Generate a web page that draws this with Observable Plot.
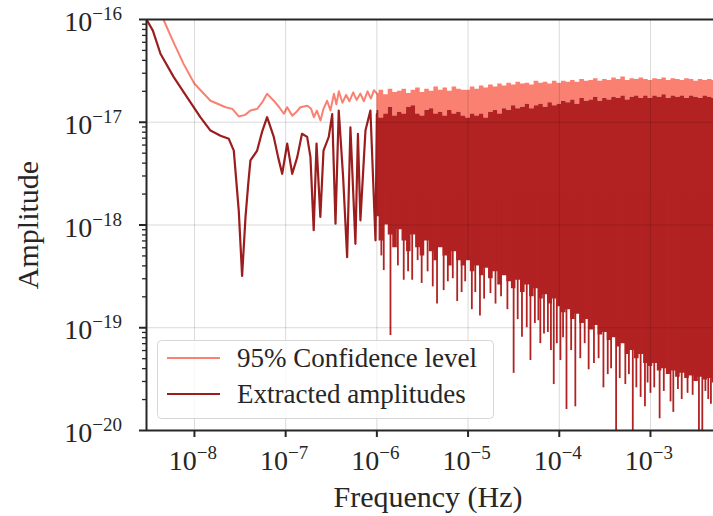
<!DOCTYPE html>
<html>
<head>
<meta charset="utf-8">
<script src="https://cdn.jsdelivr.net/npm/d3@7"></script>
<script src="https://cdn.jsdelivr.net/npm/@observablehq/plot@0.6"></script>
<style>
  body { margin: 0; background: #fff; }
  #wrap { position: relative; width: 713px; height: 516px; overflow: hidden; }
  #legend { position: absolute; left: 157px; top: 340px; }
</style>
</head>
<body>
<div id="wrap"><div id="chart"></div><div id="legend"></div></div>
<script>
// ---- data ----
const confFreq = [2.98e-9, 3.5e-9, 4.0e-9, 4.57e-9, 5.8e-9, 7.6e-9, 1.0e-8, 1.5e-8, 2.2e-8, 2.6e-8, 3.06e-8, 3.6e-8, 4.11e-8, 4.87e-8, 5.5e-8, 6.26e-8, 7.41e-8, 8.5e-8, 9.55e-8, 1.04e-7, 1.18e-7, 1.3e-7, 1.45e-7, 1.73e-7, 1.9e-7, 2.04e-7, 2.2e-7, 2.41e-7, 2.6e-7, 2.85e-7, 3.1e-7, 3.38e-7, 3.6e-7, 3.83e-7, 4.2e-7, 4.6e-7, 5.0e-7, 5.5e-7, 6.0e-7, 6.6e-7, 7.2e-7, 7.9e-7, 8.6e-7, 9.3e-7, 1.0e-6];
const confAmp  = [1.9e-16, 1.45e-16, 1.15e-16, 1.0e-16, 6.2e-17, 3.7e-17, 2.37e-17, 1.62e-17, 1.40e-17, 1.35e-17, 1.14e-17, 1.18e-17, 1.30e-17, 1.35e-17, 1.55e-17, 1.89e-17, 1.62e-17, 1.40e-17, 1.21e-17, 1.40e-17, 1.16e-17, 1.25e-17, 1.40e-17, 1.45e-17, 1.35e-17, 1.12e-17, 1.3e-17, 1.04e-17, 1.35e-17, 1.62e-17, 1.3e-17, 1.89e-17, 1.5e-17, 2.0e-17, 1.55e-17, 1.85e-17, 1.6e-17, 1.95e-17, 1.65e-17, 1.9e-17, 1.6e-17, 2.0e-17, 1.7e-17, 2.05e-17, 1.9e-17];

const extFreq = [2.98e-9, 3.5e-9, 4.24e-9, 5.93e-9, 8.32e-9, 1.16e-8, 1.5e-8, 1.93e-8, 2.38e-8, 2.7e-8, 3.06e-8, 3.33e-8, 3.63e-8, 3.9e-8, 4.11e-8, 4.87e-8, 5.5e-8, 6.26e-8, 7.41e-8, 8.3e-8, 9.16e-8, 1.04e-7, 1.18e-7, 1.34e-7, 1.51e-7, 1.72e-7, 1.87e-7, 2.03e-7, 2.18e-7, 2.4e-7, 2.6e-7, 2.97e-7, 3.24e-7, 3.52e-7, 3.82e-7, 4.27e-7, 4.72e-7, 5.13e-7, 5.82e-7, 6.2e-7, 6.6e-7, 7.5e-7, 8.5e-7, 9.66e-7, 1.0e-6];
const extAmp  = [1.0e-16, 7.8e-17, 4.64e-17, 2.75e-17, 1.75e-17, 1.12e-17, 8.3e-18, 7.4e-18, 6.9e-18, 5.3e-18, 1.38e-18, 3.2e-19, 1.2e-18, 2.6e-18, 4.25e-18, 5.3e-18, 8.0e-18, 1.12e-17, 7.2e-18, 4.5e-18, 3.15e-18, 6.2e-18, 3.15e-18, 4.58e-18, 7.73e-18, 7.2e-18, 4.58e-18, 8.9e-19, 6.2e-18, 1.2e-18, 5.3e-18, 7.2e-18, 1.2e-17, 1.03e-18, 1.3e-17, 2.9e-18, 4.86e-19, 8.9e-18, 6.56e-19, 7.7e-18, 1.11e-18, 8.3e-18, 1.3e-17, 7.1e-19, 1.2e-17];

// dense high-frequency part: envelopes of the extracted amplitudes and the confidence level
const denseFreq = [
  1.00e-6, 1.12e-6, 1.26e-6, 1.41e-6, 1.58e-6, 1.78e-6, 2.00e-6, 2.24e-6, 2.51e-6, 2.82e-6, 3.16e-6, 3.55e-6, 3.98e-6, 4.47e-6, 5.01e-6, 5.62e-6, 6.31e-6, 7.08e-6, 7.94e-6, 8.91e-6,
  1.00e-5, 1.12e-5, 1.26e-5, 1.41e-5, 1.58e-5, 1.78e-5, 2.00e-5, 2.24e-5, 2.51e-5, 2.82e-5, 3.16e-5, 3.55e-5, 3.98e-5, 4.47e-5, 5.01e-5, 5.62e-5, 6.31e-5, 7.08e-5, 7.94e-5, 8.91e-5,
  1.00e-4, 1.12e-4, 1.26e-4, 1.41e-4, 1.58e-4, 1.78e-4, 2.00e-4, 2.24e-4, 2.51e-4, 2.82e-4, 3.16e-4, 3.55e-4, 3.98e-4, 4.47e-4, 5.01e-4, 5.62e-4, 6.31e-4, 7.08e-4, 7.94e-4, 8.91e-4,
  1.00e-3, 1.12e-3, 1.26e-3, 1.41e-3, 1.58e-3, 1.78e-3, 2.00e-3, 2.24e-3, 2.51e-3, 2.82e-3, 3.16e-3, 3.55e-3, 3.98e-3, 4.47e-3, 5.01e-3];
const denseHi = [
  1.3e-17, 1.1e-17, 1.2e-17, 1.4e-17, 1.15e-17, 1.25e-17, 1.2e-17, 1.4e-17, 1.45e-17, 1.2e-17, 1.15e-17, 1.3e-17, 1.35e-17, 1.2e-17, 1.25e-17, 1.15e-17, 1.3e-17, 1.2e-17, 1.25e-17, 1.15e-17,
  1.1e-17, 1.2e-17, 1.15e-17, 1.2e-17, 1.1e-17, 1.25e-17, 1.3e-17, 1.2e-17, 1.35e-17, 1.3e-17, 1.45e-17, 1.35e-17, 1.4e-17, 1.5e-17, 1.35e-17, 1.45e-17, 1.5e-17, 1.4e-17, 1.55e-17, 1.45e-17,
  1.5e-17, 1.6e-17, 1.55e-17, 1.65e-17, 1.5e-17, 1.7e-17, 1.6e-17, 1.65e-17, 1.75e-17, 1.6e-17, 1.7e-17, 1.65e-17, 1.75e-17, 1.7e-17, 1.8e-17, 1.65e-17, 1.75e-17, 1.8e-17, 1.7e-17, 1.8e-17,
  1.7e-17, 1.8e-17, 1.75e-17, 1.85e-17, 1.7e-17, 1.8e-17, 1.75e-17, 1.8e-17, 1.7e-17, 1.8e-17, 1.75e-17, 1.7e-17, 1.8e-17, 1.75e-17, 1.7e-17];
const denseLo = [
  1.2e-18, 7e-19, 1.0e-18, 8e-19, 6e-19, 9e-19, 7e-19, 5.5e-19, 8e-19, 6e-19, 5e-19, 7e-19, 5.5e-19, 4.5e-19, 6e-19, 5e-19, 4e-19, 5.5e-19, 4.5e-19, 4e-19,
  4.5e-19, 3.5e-19, 4e-19, 3.2e-19, 3.8e-19, 3e-19, 3.5e-19, 2.6e-19, 3.2e-19, 2.8e-19, 2.4e-19, 2.9e-19, 2.2e-19, 2.6e-19, 2.0e-19, 2.4e-19, 1.9e-19, 2.1e-19, 1.7e-19, 1.9e-19,
  1.6e-19, 1.4e-19, 1.5e-19, 1.2e-19, 1.35e-19, 1.1e-19, 1.2e-19, 9.5e-20, 1.05e-19, 8.5e-20, 9e-20, 7.5e-20, 8e-20, 6.5e-20, 7e-20, 5.5e-20, 6e-20, 5e-20, 5.5e-20, 4.5e-20,
  4.2e-20, 4.5e-20, 3.8e-20, 4e-20, 3.5e-20, 3.8e-20, 3.3e-20, 3.6e-20, 3.2e-20, 3.4e-20, 3.0e-20, 3.3e-20, 3.1e-20, 3.2e-20, 2.9e-20];
const denseConf = [
  1.9e-17, 2.05e-17, 1.85e-17, 2.1e-17, 1.95e-17, 2.0e-17, 2.1e-17, 1.9e-17, 2.05e-17, 2.15e-17, 1.95e-17, 2.1e-17, 2.0e-17, 2.2e-17, 2.05e-17, 2.15e-17, 2.0e-17, 2.2e-17, 2.1e-17, 2.05e-17,
  2.05e-17, 2.2e-17, 2.1e-17, 2.25e-17, 2.15e-17, 2.3e-17, 2.2e-17, 2.35e-17, 2.25e-17, 2.4e-17, 2.3e-17, 2.45e-17, 2.35e-17, 2.4e-17, 2.3e-17, 2.5e-17, 2.4e-17, 2.45e-17, 2.35e-17, 2.5e-17,
  2.4e-17, 2.5e-17, 2.45e-17, 2.55e-17, 2.45e-17, 2.6e-17, 2.5e-17, 2.55e-17, 2.65e-17, 2.5e-17, 2.6e-17, 2.55e-17, 2.7e-17, 2.6e-17, 2.75e-17, 2.55e-17, 2.65e-17, 2.6e-17, 2.7e-17, 2.6e-17,
  2.55e-17, 2.65e-17, 2.6e-17, 2.7e-17, 2.55e-17, 2.65e-17, 2.6e-17, 2.55e-17, 2.65e-17, 2.6e-17, 2.5e-17, 2.6e-17, 2.55e-17, 2.6e-17, 2.55e-17];

// downward spikes of the extracted amplitudes below the dense band
const spikeFreq = [
  1.12e-6, 1.19e-6, 1.41e-6, 1.7e-6, 1.97e-6, 2.2e-6, 2.44e-6, 2.8e-6, 3.1e-6, 3.6e-6, 4.1e-6, 4.57e-6, 5.4e-6, 6.0e-6, 6.8e-6, 7.6e-6, 8.5e-6, 9.3e-6,
  1.1e-5, 1.2e-5, 1.35e-5, 1.5e-5, 1.76e-5, 2.0e-5, 2.3e-5, 2.7e-5, 3.16e-5, 3.5e-5, 3.9e-5, 4.4e-5, 4.83e-5, 5.4e-5, 5.9e-5, 6.2e-5, 6.8e-5, 7.5e-5, 8.1e-5, 8.7e-5, 9.4e-5,
  1.03e-4, 1.1e-4, 1.2e-4, 1.35e-4, 1.5e-4, 1.7e-4, 1.9e-4, 2.1e-4, 2.4e-4, 2.7e-4, 3.05e-4, 3.4e-4, 3.7e-4, 4.2e-4, 4.6e-4, 5.3e-4, 5.8e-4, 6.4e-4, 7.0e-4, 7.8e-4, 8.7e-4, 9.3e-4,
  1.0e-3, 1.1e-3, 1.26e-3, 1.4e-3, 1.66e-3, 1.78e-3, 2.0e-3, 2.2e-3, 2.55e-3, 2.9e-3, 3.4e-3, 3.7e-3, 4.0e-3, 4.3e-3, 4.6e-3];
const spikeAmp = [
  5e-19, 3.6e-19, 8.4e-20, 4e-19, 2.9e-19, 3.5e-19, 2.9e-19, 4.5e-19, 2.7e-19, 3.5e-19, 2.5e-19, 1.7e-19, 2.3e-19, 2.8e-19, 3.0e-19, 1.8e-19, 2.2e-19, 2.8e-19,
  1.5e-19, 2.2e-19, 1.3e-19, 1.9e-19, 2.15e-19, 1.7e-19, 2.0e-19, 1.5e-19, 3.6e-20, 1.2e-19, 8.1e-20, 1.0e-19, 4.8e-20, 1.1e-19, 1.17e-19, 7e-20, 8.7e-20, 9e-20, 6e-20, 2.8e-20, 7e-20,
  4.8e-20, 8e-20, 1.6e-20, 6e-20, 1.7e-20, 5e-20, 7e-20, 3.9e-20, 4.5e-20, 5e-20, 2.6e-20, 3.5e-20, 4e-20, 9e-21, 3.2e-20, 2.8e-20, 3.5e-20, 9e-21, 2.6e-20, 2.1e-20, 1.7e-20, 2.9e-20,
  2.3e-20, 2.6e-20, 1.3e-20, 2.4e-20, 1.9e-20, 1.5e-20, 2.5e-20, 2.0e-20, 2.3e-20, 2.2e-20, 9e-21, 9e-21, 2.4e-20, 2.0e-20, 1.8e-20];

const xTicks = [1e-8, 1e-7, 1e-6, 1e-5, 1e-4, 1e-3];
const xTickExp = ["−8", "−7", "−6", "−5", "−4", "−3"];
const yTicks = [1e-20, 1e-19, 1e-18, 1e-17, 1e-16];
const yTickExp = ["−20", "−19", "−18", "−17", "−16"];
const minorMult = [2, 3, 4, 5, 6, 7, 8, 9];
const seriesNames = ["95% Confidence level", "Extracted amplitudes"];

// ---- build ----
const SALMON = "#fa8072", RED = "#b22222", RED_LINE = "#9c1d1d", INK = "#262626";
const FONT = "Liberation Serif, Times New Roman, serif";

const conf = confFreq.map((f, i) => ({f, a: confAmp[i]}));
const ext = extFreq.map((f, i) => ({f, a: extAmp[i]}));
const dense = denseFreq.map((f, i) => ({f, hi: denseHi[i], lo: denseLo[i], c: denseConf[i]}));
const spikes = spikeFreq.map((f, i) => ({f, lo: spikeAmp[i]}));
const yMinor = yTicks.slice(0, -1).flatMap(d => minorMult.map(m => m * d));
const xDomain = [2.98e-9, 4.91e-3];

const chart = Plot.plot({
  width: 713, height: 516,
  marginLeft: 146, marginRight: 0, marginTop: 19, marginBottom: 86,
  style: {background: "white", color: INK, fontFamily: FONT},
  x: {type: "log", domain: xDomain},
  y: {type: "log", domain: [1e-20, 1e-16]},
  marks: [
    Plot.line(conf, {x: "f", y: "a", stroke: SALMON, strokeWidth: 2, clip: true}),
    Plot.areaY(dense, {x: "f", y1: "hi", y2: "c", fill: SALMON, curve: "step", clip: true}),
    Plot.line(ext, {x: "f", y: "a", stroke: RED_LINE, strokeWidth: 2.2, clip: true}),
    Plot.areaY(dense, {x: "f", y1: "lo", y2: "hi", fill: RED, curve: "step", clip: true}),
    Plot.ruleX(spikes, {x: "f", y1: "lo", y2: () => 2e-18, stroke: RED, strokeWidth: 1.8, clip: true}),
    Plot.gridX({ticks: xTicks, stroke: "#000", strokeOpacity: 0.15, strokeWidth: 1}),
    Plot.gridY({ticks: yTicks, stroke: "#000", strokeOpacity: 0.15, strokeWidth: 1}),
    Plot.axisX({ticks: xTicks, tickSize: 7, strokeWidth: 2, tickFormat: () => "", label: null}),
    Plot.axisY({ticks: yTicks, tickSize: 7, strokeWidth: 2, tickFormat: () => "", label: null}),
    Plot.axisY({ticks: yMinor, tickSize: 4, strokeWidth: 1.3, tickFormat: () => "", label: null}),
    Plot.ruleX([xDomain[0]], {stroke: INK, strokeWidth: 2}),
    Plot.ruleY([1e-20, 1e-16], {stroke: INK, strokeWidth: 2})
  ]
});
document.getElementById("chart").appendChild(chart);

const sx = chart.scale("x"), sy = chart.scale("y");
const svg = d3.select(chart);
const g = svg.append("g").attr("font-family", FONT).attr("fill", INK);
xTicks.forEach((v, i) => {
  const t = g.append("text").attr("x", sx.apply(v) - 1).attr("y", 470).attr("text-anchor", "middle").attr("font-size", 28);
  t.append("tspan").text("10");
  t.append("tspan").attr("dy", -11).attr("font-size", 19).text(xTickExp[i]);
});
yTicks.forEach((v, i) => {
  const t = g.append("text").attr("x", 122).attr("y", sy.apply(v) + 12).attr("text-anchor", "end").attr("font-size", 28);
  t.append("tspan").text("10");
  t.append("tspan").attr("dy", -11).attr("font-size", 19).text(yTickExp[i]);
});
g.append("text").attr("x", 428).attr("y", 507).attr("text-anchor", "middle").attr("font-size", 30).text("Frequency (Hz)");
g.append("text").attr("transform", "translate(38,225) rotate(-90)").attr("text-anchor", "middle").attr("font-size", 30).text("Amplitude");

// legend (inside the axes, lower left)
const leg = d3.select("#legend").append("svg").attr("width", 338).attr("height", 80)
  .attr("font-family", FONT);
leg.append("rect").attr("x", 0.5).attr("y", 0.5).attr("width", 336).attr("height", 78).attr("rx", 4)
  .attr("fill", "white").attr("fill-opacity", 0.8).attr("stroke", "#d6d6d6");
[SALMON, RED_LINE].forEach((c, i) => {
  leg.append("line").attr("x1", 10).attr("x2", 63).attr("y1", 18 + 36 * i).attr("y2", 18 + 36 * i)
    .attr("stroke", c).attr("stroke-width", 2.2);
  leg.append("text").attr("x", 80).attr("y", 27 + 36 * i).attr("font-size", 27).attr("fill", INK).text(seriesNames[i]);
});
</script>
</body>
</html>
